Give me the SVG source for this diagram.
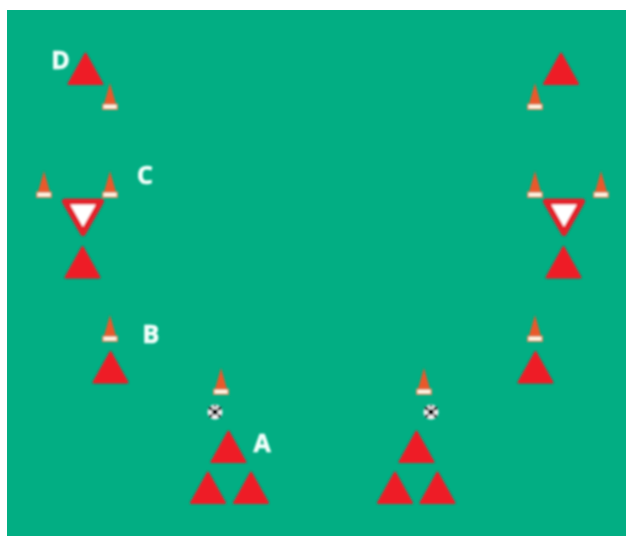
<svg xmlns="http://www.w3.org/2000/svg" width="626" height="536" viewBox="0 0 626 536">
<style>
.l{font-family:"Open Sans","Liberation Sans",sans-serif;font-weight:700;font-size:25px;fill:#f2fffb;stroke:#f2fffb;stroke-width:.6;text-anchor:middle}
</style>
<defs>
<filter id="b" x="-20%" y="-20%" width="140%" height="140%"><feGaussianBlur stdDeviation="0.8"/></filter>
<g id="tri"><path d="M0,-15.500 L17,15 L-17,15Z" fill="#ee1c25" stroke="#ee1c25" stroke-width="2" stroke-linejoin="round"/></g>
<g id="cone">
<path d="M0,-14 L6,7 L-6,7Z" fill="#e9592c"/>
<rect x="-8" y="6.500" width="16" height="6.500" fill="#d98a5c"/>
<rect x="-6.500" y="8" width="13" height="3.500" fill="#fff8e6"/>
</g>
<g id="yield"><path d="M-18,-15.500 L18,-15.500 L0,16Z" fill="#fff" stroke="#e3202c" stroke-width="6" stroke-linejoin="round"/></g>
<g id="ball">
<circle r="7.500" fill="#f4f4f4"/>
<circle r="3" fill="#000"/>
<circle cx="-4.500" cy="-3.600" r="2" fill="#111"/>
<circle cx="4.500" cy="-3.600" r="2" fill="#111"/>
<circle cx="-4.300" cy="4" r="1.800" fill="#111"/>
<circle cx="4.300" cy="4" r="1.800" fill="#111"/>
<circle cy="-6" r="1.300" fill="#333"/>
</g>
</defs>
<rect width="626" height="536" fill="#fff"/>
<rect x="7" y="10" width="619" height="526" fill="#02ae83"/>
<g filter="url(#b)">
<g id="connectors"/>
<g id="t-d-left"><use href="#tri" x="85.500" y="69"/></g>
<g id="c-d-left"><use href="#cone" x="110" y="97"/></g>
<g id="t-d-right"><use href="#tri" x="561" y="69"/></g>
<g id="c-d-right"><use href="#cone" x="535" y="97"/></g>
<g id="c-c-l1"><use href="#cone" x="44" y="185"/></g>
<g id="c-c-l2"><use href="#cone" x="110" y="185"/></g>
<g id="c-c-r1"><use href="#cone" x="535" y="185"/></g>
<g id="c-c-r2"><use href="#cone" x="601" y="185"/></g>
<g id="y-left"><use href="#yield" x="83" y="217"/></g>
<g id="y-right"><use href="#yield" x="564" y="217"/></g>
<g id="t-c-left"><use href="#tri" x="82.500" y="262.500"/></g>
<g id="t-c-right"><use href="#tri" x="563.500" y="262.500"/></g>
<g id="c-b-left"><use href="#cone" x="110" y="329"/></g>
<g id="c-b-right"><use href="#cone" x="535" y="329"/></g>
<g id="t-b-left"><use href="#tri" x="110.500" y="367.500"/></g>
<g id="t-b-right"><use href="#tri" x="535.500" y="367.500"/></g>
<g id="c-a-left"><use href="#cone" x="221" y="382"/></g>
<g id="c-a-right"><use href="#cone" x="424" y="382"/></g>
<g id="b-left"><use href="#ball" x="215" y="412"/></g>
<g id="b-right"><use href="#ball" x="431" y="412"/></g>
<g id="t-a-l1"><use href="#tri" x="228.500" y="447"/></g>
<g id="t-a-l2"><use href="#tri" x="208" y="488"/></g>
<g id="t-a-l3"><use href="#tri" x="251" y="488"/></g>
<g id="t-a-r1"><use href="#tri" x="416.500" y="447"/></g>
<g id="t-a-r2"><use href="#tri" x="395" y="488"/></g>
<g id="t-a-r3"><use href="#tri" x="437.500" y="488"/></g>
</g>
<g id="labels" filter="url(#b)">
<text class="l" x="60.500" y="69">D</text>
<text class="l" x="145" y="184">C</text>
<text class="l" x="151" y="343">B</text>
<text class="l" x="262" y="452">A</text>
</g>
</svg>
